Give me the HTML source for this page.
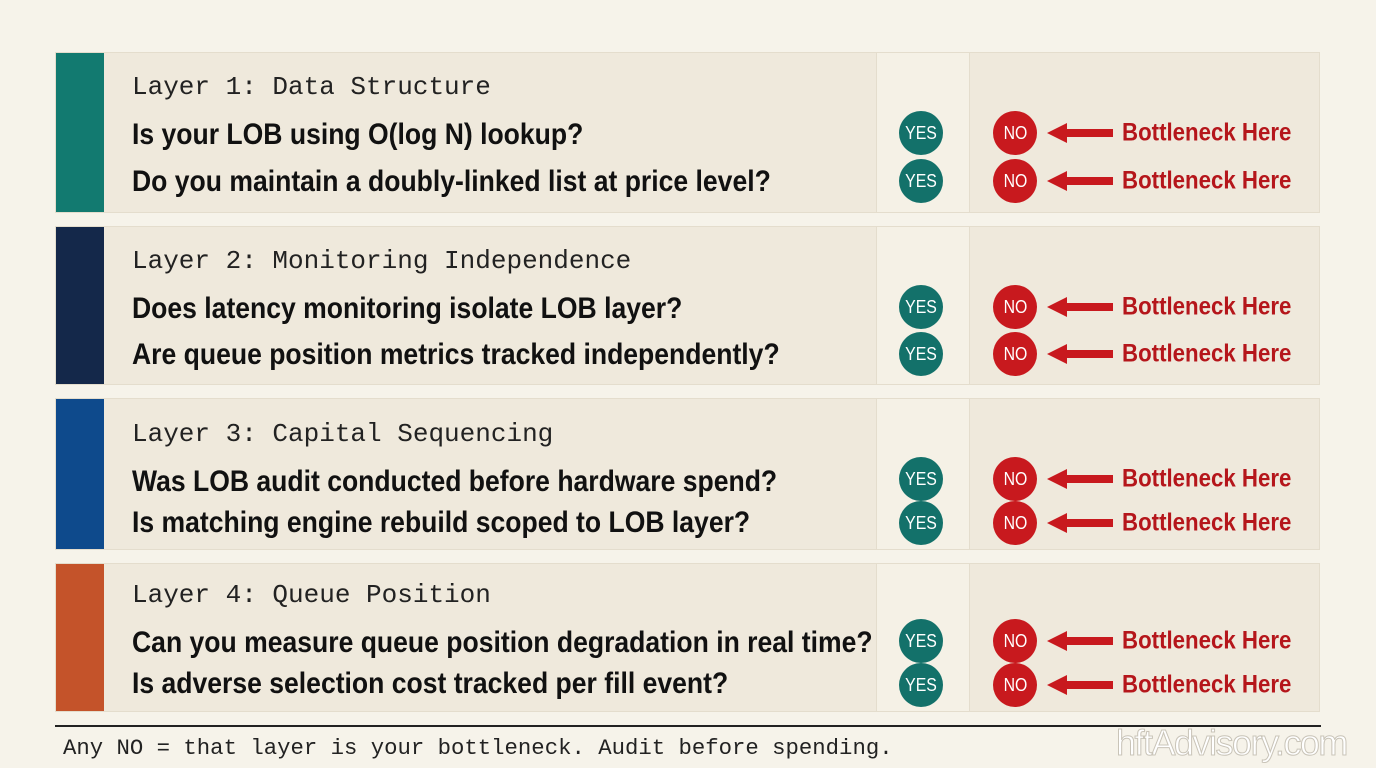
<!DOCTYPE html>
<html><head><meta charset="utf-8"><style>
body{margin:0;width:1376px;height:768px;background:#f6f3ea;position:relative;overflow:hidden;font-family:"Liberation Sans",sans-serif}
.blk{position:absolute;left:55px;width:1265px;background:#efe9dc;border:1px solid #e4ddcd;box-sizing:border-box}
.bar{position:absolute;left:0;top:0;bottom:0;width:48px}
.ycol{position:absolute;left:820px;width:92px;top:0;bottom:0;background:#f5f1e6;border-left:1px solid #e4ddcd;border-right:1px solid #e4ddcd}
.h{position:absolute;left:132px;font-family:"Liberation Mono",monospace;font-size:26px;color:#222;line-height:1}
.q{position:absolute;left:132px;font-weight:bold;font-size:30px;color:#111;line-height:1;transform-origin:0 50%;transform:translateY(-50%) scaleX(0.885);white-space:nowrap}
.c{position:absolute;width:44px;height:44px;border-radius:50%;color:#fff;font-size:18px;display:flex;align-items:center;justify-content:center;transform:translate(-50%,-50%)}
.c span{display:inline-block;transform:scaleX(0.88)}
.y{background:#13716a}.n{background:#c8191e}
.ar{position:absolute;left:1047px;width:66px;height:20px;transform:translateY(-50%)}
.bt{position:absolute;left:1122px;font-weight:bold;font-size:25px;color:#b5161b;transform-origin:0 50%;transform:translateY(-50%) scaleX(0.89);white-space:nowrap}
</style></head><body>
<div class="blk" style="top:52px;height:161px"><div class="bar" style="background:#127a70"></div><div class="ycol"></div></div>
<div class="blk" style="top:226px;height:159px"><div class="bar" style="background:#14284a"></div><div class="ycol"></div></div>
<div class="blk" style="top:398px;height:152px"><div class="bar" style="background:#0e4a8c"></div><div class="ycol"></div></div>
<div class="blk" style="top:563px;height:149px"><div class="bar" style="background:#c4532a"></div><div class="ycol"></div></div>

<div class="h" style="top:74px">Layer 1: Data Structure</div>
<div class="h" style="top:248px">Layer 2: Monitoring Independence</div>
<div class="h" style="top:421px">Layer 3: Capital Sequencing</div>
<div class="h" style="top:582px">Layer 4: Queue Position</div>

<div class="q" style="top:135px">Is your LOB using O(log N) lookup?</div>
<div class="q" style="top:182px">Do you maintain a doubly-linked list at price level?</div>
<div class="q" style="top:309px">Does latency monitoring isolate LOB layer?</div>
<div class="q" style="top:355px">Are queue position metrics tracked independently?</div>
<div class="q" style="top:482px">Was LOB audit conducted before hardware spend?</div>
<div class="q" style="top:523px">Is matching engine rebuild scoped to LOB layer?</div>
<div class="q" style="top:643px">Can you measure queue position degradation in real time?</div>
<div class="q" style="top:684px">Is adverse selection cost tracked per fill event?</div>

<div id="rows"></div>
<script>
var ys=[133,181,307,354,479,523,641,685],h='';
ys.forEach(function(y){
h+='<div class="c y" style="left:921px;top:'+y+'px"><span>YES</span></div>';
h+='<div class="c n" style="left:1015px;top:'+y+'px"><span>NO</span></div>';
h+='<svg class="ar" style="top:'+y+'px" viewBox="0 0 66 20"><polygon points="0,10 20,0 20,6 66,6 66,14 20,14 20,20" fill="#c8191e"/></svg>';
h+='<div class="bt" style="top:'+y+'px">Bottleneck Here</div>';
});
document.getElementById('rows').innerHTML=h;
</script>

<div style="position:absolute;left:55px;top:725px;width:1266px;height:2px;background:#222"></div>
<div style="position:absolute;left:63px;top:735px;font-family:'Liberation Mono',monospace;font-size:22.3px;color:#222">Any NO = that layer is your bottleneck. Audit before spending.</div>
<div style="position:absolute;left:1116px;top:722px;font-size:36px;color:#fff;-webkit-text-stroke:1px #c9c4b8;letter-spacing:-1.5px">hftAdvisory.com</div>
</body></html>
